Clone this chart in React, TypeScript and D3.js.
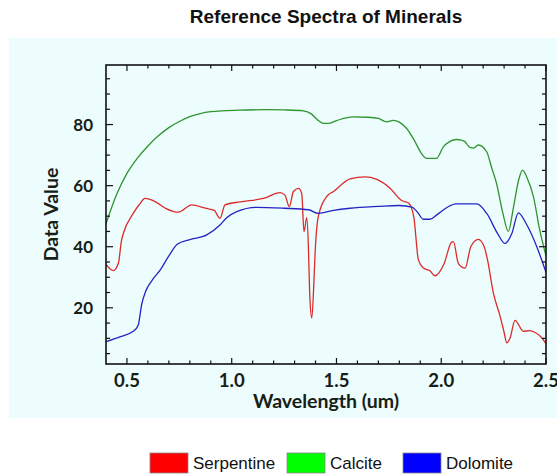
import React from "react";
import * as d3 from "d3";

// wavelength (um) / value pairs
const serpentineWl = [0.4, 0.435, 0.459, 0.474, 0.483, 0.53, 0.56, 0.586, 0.636, 0.687, 0.745, 0.809, 0.874, 0.917, 0.934, 0.944, 0.968, 1.04, 1.151, 1.231, 1.254, 1.275, 1.294, 1.318, 1.334, 1.345, 1.358, 1.366, 1.372, 1.382, 1.392, 1.398, 1.413, 1.453, 1.486, 1.565, 1.639, 1.69, 1.758, 1.809, 1.844, 1.869, 1.891, 1.915, 1.946, 1.97, 2.014, 2.048, 2.058, 2.082, 2.114, 2.141, 2.177, 2.205, 2.22, 2.249, 2.281, 2.3, 2.313, 2.328, 2.352, 2.392, 2.42, 2.448, 2.475, 2.5];
const serpentineVal = [34.2, 32.2, 34.6, 42.0, 44.4, 50.9, 53.9, 55.8, 54.7, 52.5, 51.3, 53.7, 52.6, 51.9, 50.0, 49.3, 53.7, 54.7, 55.8, 57.7, 56.9, 53.1, 58.0, 59.1, 57.5, 44.9, 49.5, 40.0, 25.0, 16.6, 28.0, 37.9, 49.8, 56.4, 58.1, 62.2, 62.9, 62.1, 59.0, 55.2, 54.3, 49.8, 35.7, 33.0, 32.1, 30.5, 34.5, 41.4, 41.7, 34.5, 33.0, 40.0, 42.4, 40.0, 36.0, 24.8, 17.2, 12.0, 8.5, 10.0, 15.9, 12.3, 12.5, 11.9, 10.5, 8.3];

const calciteWl = [0.4, 0.45, 0.5, 0.55, 0.6, 0.65, 0.7, 0.75, 0.8, 0.85, 0.9, 0.95, 1.04, 1.16, 1.25, 1.342, 1.38, 1.41, 1.437, 1.46, 1.5, 1.58, 1.65, 1.7, 1.739, 1.771, 1.8, 1.835, 1.87, 1.906, 1.93, 1.977, 2.01, 2.04, 2.073, 2.11, 2.137, 2.155, 2.177, 2.217, 2.24, 2.264, 2.294, 2.32, 2.345, 2.37, 2.388, 2.41, 2.44, 2.47, 2.5];
const calciteVal = [47.5, 57.0, 64.0, 69.0, 73.0, 76.3, 79.0, 81.0, 82.6, 83.6, 84.2, 84.5, 84.7, 84.9, 84.8, 84.5, 83.5, 81.5, 80.4, 80.4, 81.3, 82.5, 82.4, 82.0, 80.9, 81.4, 80.8, 78.7, 75.0, 70.5, 68.9, 68.9, 72.7, 74.4, 75.1, 74.6, 72.5, 72.3, 73.3, 71.1, 66.0, 60.7, 51.0, 45.0, 53.0, 62.0, 65.1, 62.5, 56.4, 45.5, 37.0];

const dolomiteWl = [0.4, 0.466, 0.53, 0.554, 0.57, 0.59, 0.62, 0.66, 0.7, 0.74, 0.8, 0.881, 0.944, 0.976, 1.024, 1.119, 1.25, 1.367, 1.413, 1.486, 1.565, 1.7, 1.8, 1.86, 1.89, 1.914, 1.946, 1.98, 2.031, 2.07, 2.17, 2.218, 2.269, 2.304, 2.337, 2.368, 2.405, 2.456, 2.5];
const dolomiteVal = [8.9, 10.5, 12.3, 14.4, 21.0, 25.5, 29.0, 32.5, 37.0, 40.8, 42.3, 43.9, 47.1, 49.5, 51.5, 52.9, 52.6, 52.1, 50.9, 51.9, 52.6, 53.2, 53.5, 53.0, 51.0, 49.0, 49.0, 50.5, 53.0, 54.0, 54.0, 50.8, 44.3, 41.1, 44.3, 51.1, 47.6, 40.0, 31.6];

const seriesNames = ["Serpentine", "Calcite", "Dolomite"];
const lineColors = ["#dd2a2a", "#2f952f", "#2424c4"];
const legendColors = ["#ff0000", "#00ff00", "#0000ff"];
const xTickLabels = [0.5, 1.0, 1.5, 2.0, 2.5];
const yTickLabels = [20, 40, 60, 80];

const W = 557;
const H = 475;
const plot = { left: 106, right: 546, top: 65, bottom: 364 };

const x = d3.scaleLinear().domain([0.4, 2.5]).range([plot.left, plot.right]);
const y = d3.scaleLinear().domain([1.6, 99.5]).range([plot.bottom, plot.top]);

const line = d3
  .line<[number, number]>()
  .x((d) => x(d[0]))
  .y((d) => y(d[1]))
  .curve(d3.curveMonotoneX);

const zip = (a: number[], b: number[]) => a.map((v, i) => [v, b[i]] as [number, number]);

const series = [zip(serpentineWl, serpentineVal), zip(calciteWl, calciteVal), zip(dolomiteWl, dolomiteVal)];

const labelFont = "Lato, 'Open Sans', sans-serif";
const arial = "'Liberation Sans', Arial, sans-serif";

export default function App() {
  const xMinor = d3.range(5, 26).map((d) => d / 10);
  const yMinor = d3.range(5, 100, 5);

  return (
    <div style={{ position: "absolute", left: 0, top: 0, background: "#fff" }}>
      <svg width={W} height={H} style={{ display: "block" }}>
        <rect x={0} y={0} width={W} height={H} fill="#ffffff" />
        <rect x={9} y={38} width={W - 9} height={380} fill="#edfcfc" />

        <text
          x={(plot.left + plot.right) / 2}
          y={23}
          textAnchor="middle"
          fontFamily={arial}
          fontWeight="bold"
          fontSize={19}
          fill="#111"
        >
          Reference Spectra of Minerals
        </text>

        <defs>
          <clipPath id="clip">
            <rect x={plot.left} y={plot.top} width={plot.right - plot.left} height={plot.bottom - plot.top} />
          </clipPath>
        </defs>

        {/* lines */}
        <g clipPath="url(#clip)">
          {series.map((s, i) => (
            <path key={i} d={line(s) || ""} fill="none" stroke={lineColors[i]} strokeWidth={1.3} />
          ))}
        </g>

        {/* ticks, pointing inward on all four sides */}
        <g stroke="#111" strokeWidth={1.2}>
          {xMinor.map((t, i) => {
            const major = Math.abs((t * 10) % 5) < 1e-6;
            const len = major ? 6 : 3.5;
            const px = x(t);
            return (
              <g key={"xt" + i}>
                <line x1={px} x2={px} y1={plot.bottom} y2={plot.bottom - len} />
                <line x1={px} x2={px} y1={plot.top} y2={plot.top + len} />
              </g>
            );
          })}
          {yMinor.map((t, i) => {
            const major = t % 20 === 0;
            const len = major ? 7 : 4;
            const py = y(t);
            return (
              <g key={"yt" + i}>
                <line x1={plot.left} x2={plot.left + len} y1={py} y2={py} />
                <line x1={plot.right} x2={plot.right - len} y1={py} y2={py} />
              </g>
            );
          })}
        </g>

        <rect
          x={plot.left}
          y={plot.top}
          width={plot.right - plot.left}
          height={plot.bottom - plot.top}
          fill="none"
          stroke="#111"
          strokeWidth={1.6}
        />

        {/* tick labels */}
        <g fontFamily={labelFont} fontWeight="bold" fill="#162016">
          {xTickLabels.map((t) => (
            <text key={"xl" + t} x={x(t)} y={387} textAnchor="middle" fontSize={18.5}>
              {t.toFixed(1)}
            </text>
          ))}
          {yTickLabels.map((t) => (
            <text key={"yl" + t} x={93} y={y(t) + 6} textAnchor="end" fontSize={17}>
              {t}
            </text>
          ))}
        </g>

        <text
          x={(plot.left + plot.right) / 2}
          y={408}
          textAnchor="middle"
          fontFamily={labelFont}
          fontWeight="bold"
          fontSize={19.5}
          fill="#162016"
        >
          Wavelength (um)
        </text>
        <text
          transform={`translate(58,${(plot.top + plot.bottom) / 2}) rotate(-90)`}
          textAnchor="middle"
          fontFamily={labelFont}
          fontWeight="bold"
          fontSize={19.5}
          fill="#162016"
        >
          Data Value
        </text>

        {/* legend */}
        <g fontFamily={arial} fontSize={17} fill="#111">
          {seriesNames.map((name, i) => {
            const bx = [150, 287, 403][i];
            return (
              <g key={name}>
                <rect x={bx} y={453} width={38} height={20} fill={legendColors[i]} stroke="#888" strokeWidth={0.8} />
                <text x={bx + 43} y={469}>
                  {name}
                </text>
              </g>
            );
          })}
        </g>
      </svg>
    </div>
  );
}
